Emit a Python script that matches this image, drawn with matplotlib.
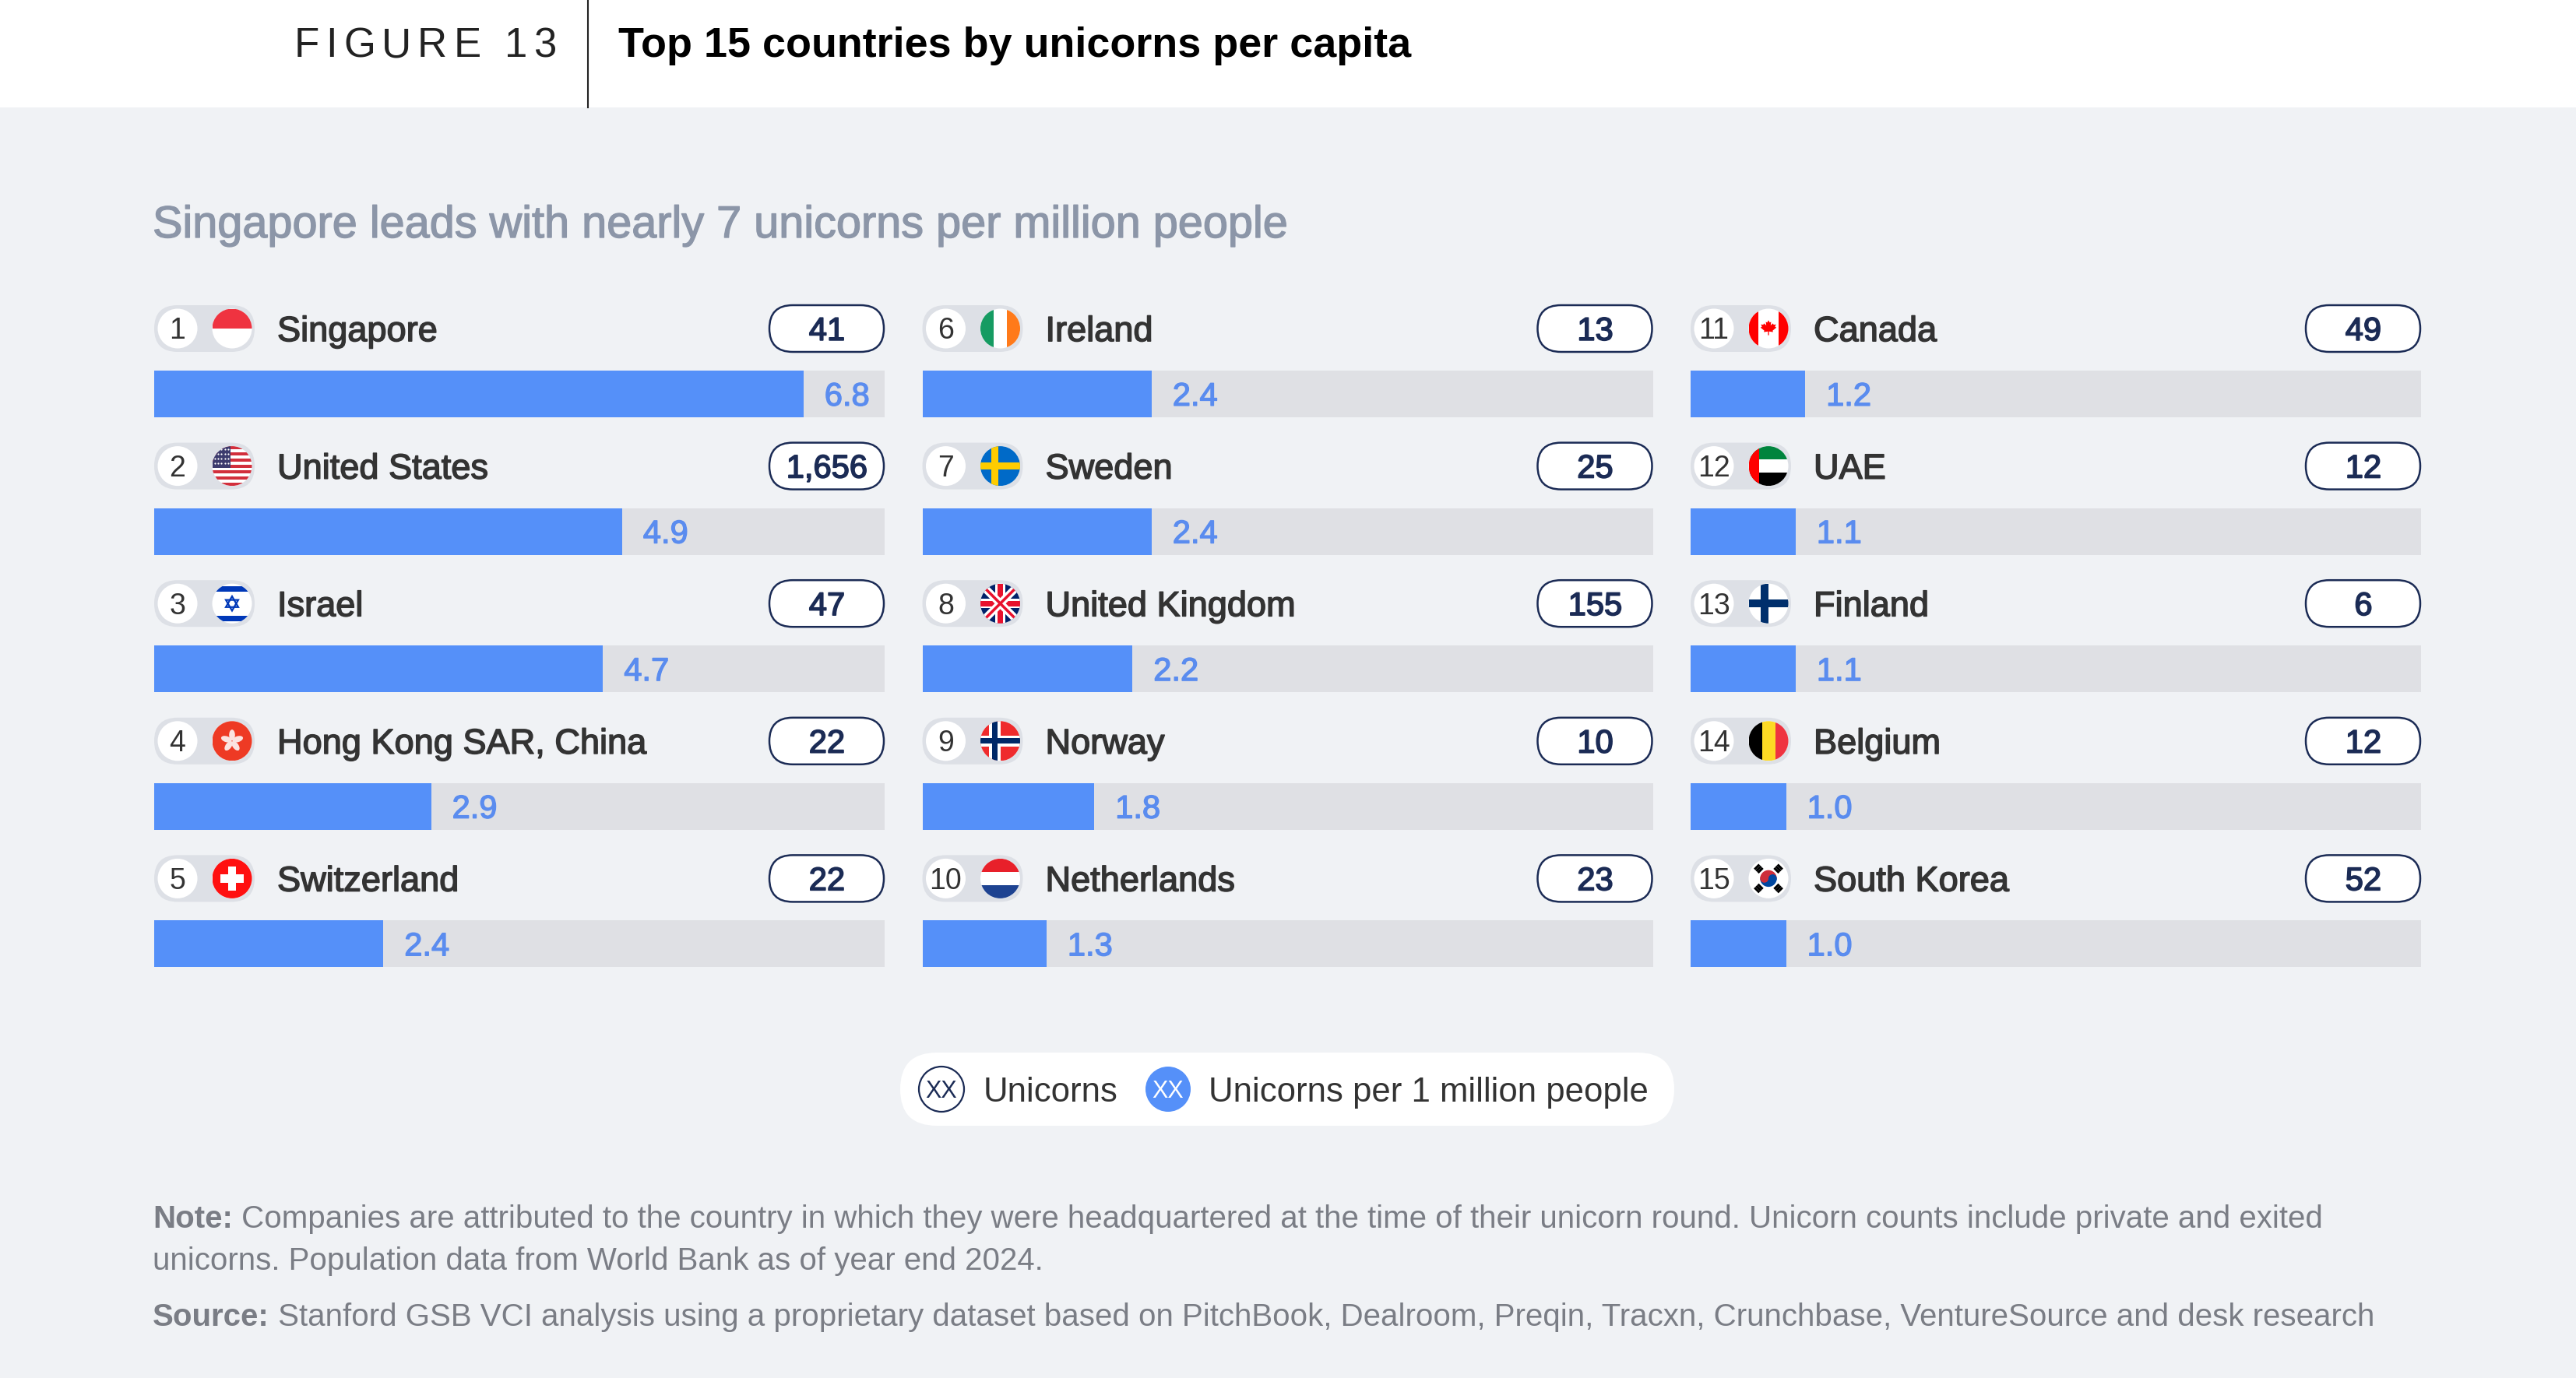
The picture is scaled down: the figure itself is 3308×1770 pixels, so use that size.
import numpy as np
import matplotlib
matplotlib.use("Agg")
import matplotlib.pyplot as plt
from matplotlib.patches import Rectangle, Circle, FancyBboxPatch, Ellipse, Polygon, Wedge
import matplotlib.patheffects as pe

plt.rcParams['font.family'] = ['Liberation Sans', 'DejaVu Sans']

# ---------------- data ----------------
ranks = list(range(1, 16))
countries = ["Singapore", "United States", "Israel", "Hong Kong SAR, China", "Switzerland",
             "Ireland", "Sweden", "United Kingdom", "Norway", "Netherlands",
             "Canada", "UAE", "Finland", "Belgium", "South Korea"]
flags = ["SG", "US", "IL", "HK", "CH", "IE", "SE", "GB", "NO", "NL", "CA", "AE", "FI", "BE", "KR"]
unicorns = [41, 1656, 47, 22, 22, 13, 25, 155, 10, 23, 49, 12, 6, 12, 52]
per_million = [6.8, 4.9, 4.7, 2.9, 2.4, 2.4, 2.4, 2.2, 1.8, 1.3, 1.2, 1.1, 1.1, 1.0, 1.0]

title = "Top 15 countries by unicorns per capita"
subtitle = "Singapore leads with nearly 7 unicorns per million people"
note_lines = [("Note:", " Companies are attributed to the country in which they were headquartered at the time of their unicorn round. Unicorn counts include private and exited"),
              ("", "unicorns. Population data from World Bank as of year end 2024."),
              ("Source:", " Stanford GSB VCI analysis using a proprietary dataset based on PitchBook, Dealroom, Preqin, Tracxn, Crunchbase, VentureSource and desk research")]

# ---------------- layout (pixels) ----------------
W, H = 3308, 1770
HEADER_H = 138
COL_X = [198, 1184.5, 2171]
TRACK_W = 938
ROW_PITCH = 176.6
LABEL_Y0 = 422
BAR_Y0 = 506
PILL_H = 60
XMAX = 7.65

BG = "#F0F2F5"
BLUE = "#5590F9"
VAL_BLUE = "#5A8CEF"
TRACK = "#DFE0E4"
NAVY = "#1B2B55"
DARK = "#333333"


def cap_px(size):
    return 0.716 * size * 100 / 72


fig = plt.figure(figsize=(W / 100, H / 100), dpi=100, facecolor=BG)
ax = fig.add_axes([0, 0, 1, 1])
ax.set_xlim(0, W)
ax.set_ylim(H, 0)
ax.axis("off")
renderer = fig.canvas.get_renderer()


def text_c(x, cy, s, size, **kw):
    # place text so its cap height is centred on cy
    return ax.text(x, cy + cap_px(size) / 2, s, fontsize=size, va="baseline", **kw)


medium = [pe.withStroke(linewidth=1.1, foreground=DARK)]

# ---------------- header ----------------
ax.add_patch(Rectangle((0, 0), W, HEADER_H, fc="white", ec="none", zorder=0))
ax.plot([755, 755], [0, HEADER_H], color="#222222", lw=1.5, zorder=1)
ax.text(794, 73, title, fontsize=38.8, fontweight="bold", color="black", va="baseline")

# tracked "FIGURE 13"
x = 378
for word in ["FIGURE", "13"]:
    for ch in word:
        t = ax.text(x, 73, ch, fontsize=38, color="#222222", va="baseline")
        x += t.get_window_extent(renderer).width + 8
    x += 22

ax.text(196, 305, subtitle, fontsize=41.5, color="#8C96A8", va="baseline",
        path_effects=[pe.withStroke(linewidth=1.0, foreground="#8C96A8")])


# ---------------- flags ----------------
def draw_flag(code, cx, cy, r):
    clip = Circle((cx, cy), r, fc="white", ec="none", zorder=3)
    ax.add_patch(clip)
    arts = []
    x0, y0, s = cx - r, cy - r, 2 * r

    def band(fx0, fy0, fx1, fy1, c):
        p = Rectangle((x0 + fx0 * s, y0 + fy0 * s), (fx1 - fx0) * s, (fy1 - fy0) * s, fc=c, ec="none", zorder=4)
        ax.add_patch(p)
        arts.append(p)

    def line(xs, ys, c, wpx):
        ln, = ax.plot([x0 + v * s for v in xs], [y0 + v * s for v in ys], color=c,
                      lw=wpx * 0.72, solid_capstyle="butt", zorder=5)
        arts.append(ln)

    if code == "SG":
        band(0, 0, 1, 0.5, "#EF3340")
    elif code == "US":
        for k in range(13):
            if k % 2 == 0:
                band(0, k / 13, 1, (k + 1) / 13, "#D22F3C")
        band(0, 0, 0.47, 7 / 13, "#3C3B6E")
        for i in range(5):
            for j in range(4):
                d, = ax.plot(x0 + (0.06 + 0.085 * i) * s, y0 + (0.07 + 0.12 * j) * s, "o",
                             ms=1.6, color="white", mec="none", zorder=5)
                arts.append(d)
    elif code == "IL":
        band(0, 0.06, 1, 0.2, "#0038B8")
        band(0, 0.8, 1, 0.94, "#0038B8")
        for rot in (0, np.pi):
            ang = rot + np.pi / 2 + np.arange(3) * 2 * np.pi / 3
            tri = Polygon(np.c_[cx + 0.36 * r * np.cos(ang), cy + 0.36 * r * np.sin(ang)],
                          closed=True, fill=False, ec="#0038B8", lw=1.6, zorder=5)
            ax.add_patch(tri)
            arts.append(tri)
    elif code == "HK":
        band(0, 0, 1, 1, "#EE3A24")
        for k in range(5):
            a = -np.pi / 2 + k * 2 * np.pi / 5
            e = Ellipse((cx + 0.3 * r * np.cos(a), cy + 0.3 * r * np.sin(a)), 0.55 * r, 0.3 * r,
                        angle=np.degrees(a), fc="#FBE3E0", ec="none", zorder=5)
            ax.add_patch(e)
            arts.append(e)
    elif code == "CH":
        band(0, 0, 1, 1, "#FF1010")
        band(0.2, 0.4, 0.8, 0.6, "white")
        band(0.4, 0.2, 0.6, 0.8, "white")
    elif code == "IE":
        band(0, 0, 1 / 3, 1, "#169B62")
        band(2 / 3, 0, 1, 1, "#FF7A1A")
    elif code == "SE":
        band(0, 0, 1, 1, "#006AC8")
        band(0, 0.41, 1, 0.59, "#FECC00")
        band(0.28, 0, 0.46, 1, "#FECC00")
    elif code == "GB":
        band(0, 0, 1, 1, "#012169")
        line([0, 1], [0, 1], "white", 10)
        line([0, 1], [1, 0], "white", 10)
        line([0, 1], [0, 1], "#E8112D", 3.5)
        line([0, 1], [1, 0], "#E8112D", 3.5)
        band(0, 0.38, 1, 0.62, "white")
        band(0.38, 0, 0.62, 1, "white")
        band(0, 0.43, 1, 0.57, "#E8112D")
        band(0.43, 0, 0.57, 1, "#E8112D")
    elif code == "NO":
        band(0, 0, 1, 1, "#EF2B2D")
        band(0, 0.36, 1, 0.64, "white")
        band(0.22, 0, 0.5, 1, "white")
        band(0, 0.43, 1, 0.57, "#002868")
        band(0.29, 0, 0.43, 1, "#002868")
    elif code == "NL":
        band(0, 0, 1, 1 / 3, "#E8202A")
        band(0, 2 / 3, 1, 1, "#1E4391")
    elif code == "CA":
        band(0, 0, 0.25, 1, "#FF0000")
        band(0.75, 0, 1, 1, "#FF0000")
        half = [(0, 1.0), (0.15, 0.72), (0.32, 0.80), (0.26, 0.38), (0.55, 0.62), (0.62, 0.45),
                (0.90, 0.50), (0.78, 0.22), (0.95, 0.12), (0.50, -0.25), (0.55, -0.42), (0.06, -0.35),
                (0.06, -0.8)]
        pts = half + [(-a, b) for a, b in reversed(half)]
        leaf = Polygon([(cx + 0.42 * r * a, cy - 0.42 * r * b) for a, b in pts], closed=True,
                       fc="#FF0000", ec="none", zorder=5)
        ax.add_patch(leaf)
        arts.append(leaf)
    elif code == "AE":
        band(0, 0, 1, 1 / 3, "#00843D")
        band(0, 2 / 3, 1, 1, "#000000")
        band(0, 0, 0.27, 1, "#FF0000")
    elif code == "FI":
        band(0, 0.4, 1, 0.6, "#002F6C")
        band(0.3, 0, 0.5, 1, "#002F6C")
    elif code == "BE":
        band(0, 0, 1 / 3, 1, "#000000")
        band(1 / 3, 0, 2 / 3, 1, "#FDDA24")
        band(2 / 3, 0, 1, 1, "#EF3340")
    elif code == "KR":
        R = 0.42 * r
        parts = [Wedge((cx, cy), R, 180, 360, fc="#CD2E3A", ec="none", zorder=5),
                 Wedge((cx, cy), R, 0, 180, fc="#0047A0", ec="none", zorder=5),
                 Circle((cx - R / 2, cy), R / 2, fc="#CD2E3A", ec="none", zorder=6),
                 Circle((cx + R / 2, cy), R / 2, fc="#0047A0", ec="none", zorder=6)]
        for p in parts:
            ax.add_patch(p)
            arts.append(p)
        for a in np.radians([45, 135, 225, 315]):
            ux, uy = np.cos(a), np.sin(a)
            px, py = -uy, ux
            for d in (0.58, 0.7, 0.82):
                mx, my = cx + d * r * ux, cy + d * r * uy
                ln, = ax.plot([mx - 0.17 * r * px, mx + 0.17 * r * px],
                              [my - 0.17 * r * py, my + 0.17 * r * py],
                              color="black", lw=2.2, solid_capstyle="butt", zorder=5)
                arts.append(ln)
    for a in arts:
        a.set_clip_path(clip)


# ---------------- rows ----------------
for k, name in enumerate(countries):
    col, row = divmod(k, 5)
    x0 = COL_X[col]
    cy = LABEL_Y0 + row * ROW_PITCH

    ax.add_patch(FancyBboxPatch((x0, cy - PILL_H / 2), 129, PILL_H,
                                boxstyle="round,pad=0,rounding_size=30", fc="#DDE0E6", ec="none", zorder=2))
    ax.add_patch(Circle((x0 + 30, cy), 25.5, fc="white", ec="none", zorder=3))
    text_c(x0 + 30, cy, str(ranks[k]), 27, color=DARK, ha="center", zorder=4)
    draw_flag(flags[k], x0 + 100, cy, 25.5)

    text_c(x0 + 158, cy, name, 32.5, color=DARK, ha="left", path_effects=medium)

    ax.add_patch(FancyBboxPatch((x0 + TRACK_W - 148, cy - PILL_H / 2), 147, PILL_H,
                                boxstyle="round,pad=0,rounding_size=30", fc="white", ec=NAVY, lw=1.8, zorder=2))
    text_c(x0 + TRACK_W - 74, cy, f"{unicorns[k]:,}", 30, color=NAVY, ha="center", zorder=3,
           path_effects=[pe.withStroke(linewidth=1.2, foreground=NAVY)])

# bars: one axes per column, value scale 0..XMAX
px_per_unit = TRACK_W / XMAX
for col in range(3):
    top = BAR_Y0 - 0.5 * ROW_PITCH
    bottom = BAR_Y0 + 4.5 * ROW_PITCH
    axc = fig.add_axes([COL_X[col] / W, 1 - bottom / H, TRACK_W / W, (bottom - top) / H])
    axc.set_xlim(0, XMAX)
    axc.set_ylim(4.5, -0.5)
    axc.axis("off")
    axc.patch.set_alpha(0)
    vals = per_million[col * 5:(col + 1) * 5]
    rows = np.arange(len(vals))
    axc.barh(rows, [XMAX] * len(vals), height=PILL_H / ROW_PITCH, color=TRACK)
    axc.barh(rows, vals, height=PILL_H / ROW_PITCH, color=BLUE)
    for i, v in enumerate(vals):
        axc.text(v + 27 / px_per_unit, i + cap_px(30) / 2 / ROW_PITCH, f"{v:.1f}", fontsize=30,
                 color=VAL_BLUE, va="baseline", ha="left",
                 path_effects=[pe.withStroke(linewidth=1.0, foreground=VAL_BLUE)])

# ---------------- legend ----------------
LY = 1399
ax.add_patch(FancyBboxPatch((1156, LY - 47), 994, 94, boxstyle="round,pad=0,rounding_size=47",
                            fc="white", ec="none", zorder=2))
ax.add_patch(Circle((1209, LY), 29, fc="white", ec=NAVY, lw=1.6, zorder=3))
text_c(1209, LY, "XX", 22, color=NAVY, ha="center", zorder=4)
text_c(1263, LY, "Unicorns", 31.5, color=DARK, ha="left", zorder=4)
ax.add_patch(Circle((1500, LY), 29, fc=BLUE, ec="none", zorder=3))
text_c(1500, LY, "XX", 22, color="white", ha="center", zorder=4)
text_c(1552, LY, "Unicorns per 1 million people", 31.5, color=DARK, ha="left", zorder=4)

# ---------------- notes ----------------
NOTE_C = "#7A7D85"
for (bold, rest), yb in zip(note_lines, [1577, 1631, 1703]):
    x = 196
    if bold:
        t = ax.text(x, yb, bold, fontsize=29, fontweight="bold", color=NOTE_C, va="baseline")
        x += t.get_window_extent(renderer).width
    ax.text(x, yb, rest, fontsize=29, color=NOTE_C, va="baseline")

fig.savefig("out.png", dpi=100, facecolor=BG)
